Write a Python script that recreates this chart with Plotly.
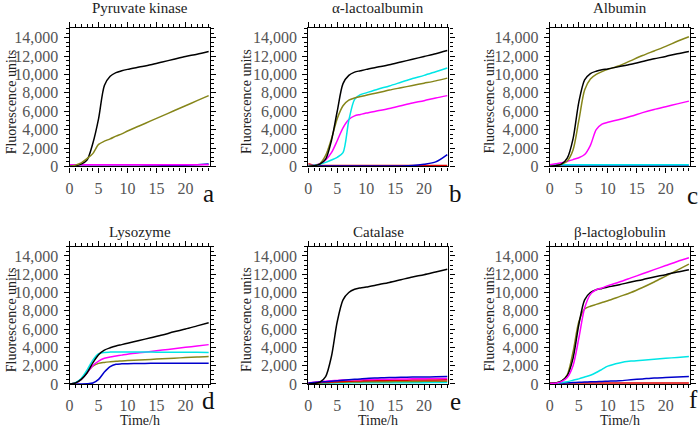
import plotly.graph_objects as go

# ---------------- data (hours, fluorescence units) ----------------
T = [0, 1, 2, 3, 4, 5, 6, 7, 8, 9, 10, 12, 14, 16, 18, 20, 22, 24]
x_ticks = [0, 5, 10, 15, 20]
y_ticks = [0, 2000, 4000, 6000, 8000, 10000, 12000, 14000]
y_tick_labels = ["0", "2,000", "4,000", "6,000", "8,000", "10,000", "12,000", "14,000"]
titles = ["Pyruvate kinase", "α-lactoalbumin", "Albumin", "Lysozyme", "Catalase", "β-lactoglobulin"]
letters = ["a", "b", "c", "d", "e", "f"]

# a: Pyruvate kinase
a_black = [0, 80, 250, 700, 2500, 5200, 8800, 9800, 10200, 10400, 10550, 10800, 11050, 11350, 11650, 11950, 12200, 12500]
a_olive = [0, 150, 400, 850, 1400, 2400, 2750, 3000, 3300, 3550, 3850, 4400, 4950, 5500, 6050, 6600, 7150, 7700]
a_magenta = [180, 180, 180, 180, 180, 180, 180, 180, 180, 180, 180, 180, 180, 180, 180, 180, 180, 190]
a_blue = [20, 20, 20, 20, 20, 20, 20, 20, 20, 20, 30, 40, 50, 70, 100, 140, 190, 260]

# b: alpha-lactalbumin
b_black = [0, 80, 250, 800, 2800, 6000, 9000, 9900, 10250, 10400, 10550, 10800, 11050, 11350, 11650, 11950, 12250, 12600]
b_olive = [0, 80, 300, 1200, 3000, 5200, 6600, 7200, 7450, 7600, 7750, 8000, 8300, 8550, 8800, 9050, 9300, 9600]
b_cyan = [100, 150, 250, 450, 700, 1000, 1500, 5000, 7300, 7800, 8000, 8400, 8750, 9150, 9550, 9900, 10300, 10700]
b_magenta = [100, 150, 300, 700, 1500, 2800, 4200, 5100, 5500, 5650, 5800, 6050, 6300, 6600, 6900, 7150, 7450, 7700]
b_blue = [50, 50, 50, 50, 50, 50, 50, 50, 50, 50, 50, 50, 60, 60, 100, 250, 500, 1300]
b_red = [300, 150, 120, 100, 100, 100, 100, 100, 100, 100, 100, 100, 100, 100, 100, 100, 100, 100]

# c: Albumin
c_black = [0, 80, 250, 900, 3000, 7000, 9400, 10100, 10350, 10500, 10600, 10850, 11100, 11400, 11700, 11950, 12250, 12500]
c_olive = [0, 80, 250, 600, 1800, 5000, 8300, 9500, 10000, 10300, 10550, 10950, 11500, 12050, 12550, 13050, 13600, 14100]
c_magenta = [200, 300, 400, 550, 750, 950, 1300, 2300, 4000, 4600, 4800, 5100, 5450, 5850, 6200, 6500, 6800, 7100]
c_cyan = [200, 200, 200, 200, 200, 200, 200, 200, 200, 200, 200, 200, 200, 200, 200, 200, 200, 200]
c_blue = [60, 60, 60, 60, 60, 60, 60, 60, 60, 60, 60, 60, 60, 60, 60, 60, 60, 60]

# d: Lysozyme
d_black = [0, 100, 500, 1200, 2300, 3200, 3700, 3950, 4150, 4300, 4450, 4750, 5050, 5350, 5700, 6000, 6350, 6700]
d_cyan = [0, 150, 600, 1500, 2600, 3300, 3450, 3480, 3480, 3480, 3480, 3480, 3480, 3470, 3470, 3460, 3460, 3450]
d_magenta = [0, 100, 500, 1200, 2000, 2500, 2800, 2950, 3050, 3150, 3250, 3400, 3550, 3700, 3850, 4000, 4150, 4300]
d_olive = [0, 100, 500, 1300, 1950, 2250, 2350, 2420, 2480, 2520, 2560, 2620, 2680, 2750, 2820, 2880, 2950, 3000]
d_blue = [0, 0, 0, 20, 100, 500, 1300, 1900, 2150, 2200, 2220, 2240, 2250, 2250, 2250, 2250, 2250, 2250]

# e: Catalase
e_black = [0, 50, 200, 800, 3000, 6800, 9200, 10000, 10350, 10500, 10600, 10850, 11100, 11400, 11700, 11950, 12250, 12550]
e_blue = [100, 150, 200, 250, 300, 350, 400, 450, 500, 550, 600, 650, 700, 720, 750, 760, 780, 800]
e_magenta = [100, 180, 250, 300, 350, 380, 420, 440, 450, 460, 480, 500, 520, 540, 560, 570, 590, 600]
e_red = [100, 130, 160, 190, 220, 250, 270, 290, 310, 330, 350, 370, 390, 400, 420, 430, 440, 450]
e_olive = [50, 70, 100, 130, 150, 170, 190, 200, 210, 220, 230, 240, 250, 260, 270, 280, 290, 300]
e_cyan = [50, 60, 70, 80, 90, 100, 110, 110, 120, 120, 120, 130, 130, 140, 140, 140, 150, 150]

# f: beta-lactoglobulin
f_black = [0, 100, 300, 900, 2800, 6500, 9200, 10000, 10300, 10450, 10600, 10850, 11150, 11400, 11700, 11950, 12250, 12500]
f_magenta = [0, 80, 250, 700, 2000, 5000, 8300, 9800, 10300, 10500, 10750, 11150, 11600, 12050, 12500, 12950, 13400, 13800]
f_olive = [0, 100, 300, 1000, 3500, 6800, 8200, 8500, 8700, 8900, 9100, 9550, 10000, 10550, 11150, 11800, 12450, 13100]
f_cyan = [0, 50, 150, 250, 400, 550, 750, 950, 1250, 1600, 1950, 2300, 2500, 2600, 2700, 2800, 2900, 3000]
f_blue = [50, 75, 100, 125, 150, 175, 200, 225, 250, 275, 300, 350, 450, 550, 650, 700, 750, 800]
f_red = [100, 100, 100, 100, 100, 100, 100, 100, 100, 100, 100, 100, 100, 100, 100, 100, 100, 100]

COL = {"black": "#000000", "olive": "#86861a", "magenta": "#ff00ff",
       "cyan": "#00e6e6", "blue": "#0000cc", "red": "#e00000"}

panels = [
    [("blue", a_blue), ("magenta", a_magenta), ("black", a_black), ("olive", a_olive)],
    [("red", b_red), ("blue", b_blue), ("magenta", b_magenta), ("cyan", b_cyan), ("olive", b_olive), ("black", b_black)],
    [("blue", c_blue), ("cyan", c_cyan), ("magenta", c_magenta), ("olive", c_olive), ("black", c_black)],
    [("blue", d_blue), ("olive", d_olive), ("magenta", d_magenta), ("cyan", d_cyan), ("black", d_black)],
    [("cyan", e_cyan), ("olive", e_olive), ("red", e_red), ("magenta", e_magenta), ("blue", e_blue), ("black", e_black)],
    [("red", f_red), ("blue", f_blue), ("cyan", f_cyan), ("olive", f_olive), ("black", f_black), ("magenta", f_magenta)],
]

W, H = 700, 437
col_px = [(66, 207), (306, 447), (549, 690)]
row_px = [(29, 170), (252, 392)]
ytitle_x = [7, 244, 488]
title_y = [8, 237]
letter_px = [(206, 198), (454, 198), (692, 200), (206, 409), (454, 410), (693, 408)]

SERIF = "Liberation Serif"
TICKFONT = dict(family=SERIF, size=16, color="#555555")
fig = go.Figure()
annotations = []

for i, series in enumerate(panels):
    r, c = divmod(i, 3)
    sfx = "" if i == 0 else str(i + 1)
    xa, ya = "x" + sfx, "y" + sfx
    for name, vals in series:
        fig.add_trace(go.Scatter(x=T, y=vals, mode="lines", xaxis=xa, yaxis=ya,
                                 line=dict(color=COL[name], width=1.5, shape="spline", smoothing=0.8),
                                 showlegend=False, hoverinfo="skip"))
    x0, x1 = col_px[c]
    y0, y1 = row_px[r]
    fig.update_layout({
        "xaxis" + sfx: dict(domain=[x0 / W, x1 / W], anchor=ya, range=[0, 24.2],
                            tickvals=x_ticks, ticktext=[str(v) for v in x_ticks]),
        "yaxis" + sfx: dict(domain=[1 - y1 / H, 1 - y0 / H], anchor=xa, range=[0, 15000],
                            tickvals=y_ticks, ticktext=y_tick_labels),
    })
    # panel title
    annotations.append(dict(text=titles[i], x=(x0 + x1) / 2 / W, y=1 - title_y[r] / H,
                            xref="paper", yref="paper", showarrow=False,
                            xanchor="center", yanchor="middle",
                            font=dict(family=SERIF, size=15, color="#222222")))
    # y axis title
    annotations.append(dict(text="Fluorescence units", x=ytitle_x[c] / W, y=1 - ((y0 + y1) / 2 + 4) / H,
                            xref="paper", yref="paper", showarrow=False, textangle=-90,
                            xanchor="center", yanchor="middle",
                            font=dict(family=SERIF, size=14, color="#222222")))
    # panel letter
    lx, ly = letter_px[i]
    annotations.append(dict(text=letters[i], x=lx / W, y=1 - ly / H,
                            xref="paper", yref="paper", showarrow=False,
                            xanchor="center", yanchor="middle", borderpad=0,
                            font=dict(family=SERIF, size=25, color="#111111")))
    if r == 1:
        annotations.append(dict(text="Time/h", x=(x0 + x1) / 2 / W, y=1 - 429 / H,
                                xref="paper", yref="paper", showarrow=False,
                                xanchor="center", yanchor="middle", borderpad=0,
                                font=dict(family=SERIF, size=14, color="#222222")))

axis_style = dict(showline=True, linecolor="black", linewidth=1.2, mirror="allticks",
                  ticks="outside", ticklen=5, tickwidth=1.2, tickcolor="black",
                  showgrid=False, zeroline=False, tickfont=TICKFONT)
fig.update_xaxes(**axis_style, ticklabelstandoff=2,
                 minor=dict(dtick=1, tick0=0, ticks="outside", ticklen=3,
                            tickcolor="black", tickwidth=1, showgrid=False))
fig.update_yaxes(**axis_style, ticklabelstandoff=2,
                 minor=dict(dtick=500, tick0=0, ticks="outside", ticklen=3,
                            tickcolor="black", tickwidth=1, showgrid=False))

fig.update_layout(width=W, height=H, autosize=False,
                  font=dict(family=SERIF, size=15, color="#555555"),
                  margin=dict(l=0, r=0, t=0, b=0),
                  paper_bgcolor="white", plot_bgcolor="white",
                  annotations=annotations, showlegend=False)

# remove the browser's default 8px body margin so the 700x437 figure fills the window exactly
fig.write_html("out.html", config={"displayModeBar": False},
               post_script="document.body.style.margin='0';document.body.style.overflow='hidden';")
